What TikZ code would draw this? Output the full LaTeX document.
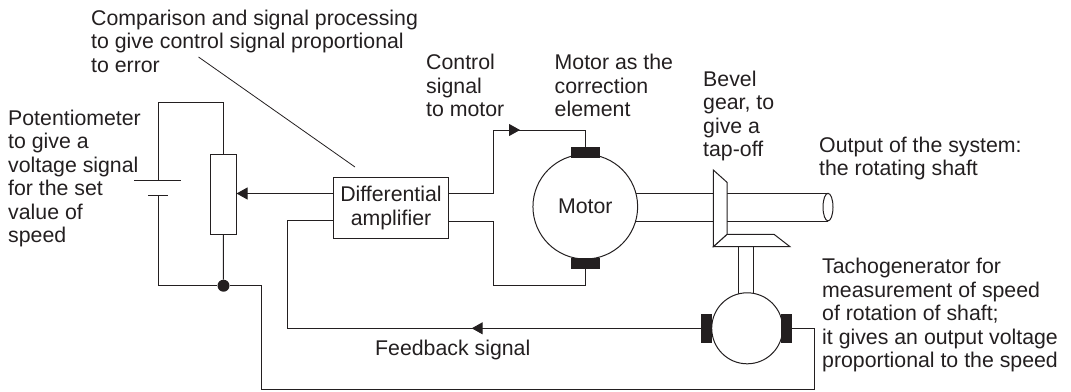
\documentclass[tikz,border=0pt]{standalone}
\usepackage{fontspec}
\setmainfont{Liberation Sans}
\usepackage{xcolor}
\usepackage{tikz}
\usetikzlibrary{arrows.meta, calc, positioning}
\definecolor{inkcol}{RGB}{35,31,32}
\tikzset{
    wire/.style={inkcol, line width=1pt},
    midtip/.style={-{Triangle[length=11pt,width=12pt]}, inkcol, line width=1pt},
    lbl/.style={anchor=base west, inner sep=0pt, align=left, text=inkcol,
        font=\fontsize{21.3}{23.4}\selectfont},
    ctr/.style={inner sep=0pt, align=center, text=inkcol,
        font=\fontsize{21.3}{23.4}\selectfont},
    brush/.style={fill=inkcol, draw=none, inner sep=0pt},
    machine/.style={circle, draw=inkcol, line width=1pt, fill=white, inner sep=0pt},
    ampbox/.style={rectangle, draw=inkcol, line width=1pt, fill=white, inner sep=0pt}
}
\begin{document}
\begin{tikzpicture}[x=1pt,y=-1pt]
\useasboundingbox (0,0) rectangle (1071,391);

% potentiometer and battery
\node[ampbox, minimum width=25.5pt, minimum height=80pt] (pot) at (223.3,194) {};
\coordinate (batT) at (158.7,180);
\coordinate (batB) at (158.7,195);
\coordinate (potTop) at (223.3,102.5);
\node[circle, fill=inkcol, inner sep=0pt, minimum size=12pt] (junc) at (223.5,285.7) {};
\draw[wire] (batT) |- (potTop) -- (pot.north);
\draw[wire] (134,180) -- (181,180);
\draw[wire] (148,195) -- (168,195);
\draw[wire] (batB) |- (junc);
\draw[wire] (pot.south) -- (junc);

% amplifier
\node[ampbox, minimum width=115pt, minimum height=60.5pt, ctr] (amp) at (391,208)
    {Differential\\amplifier};
\coordinate (potIn) at (pot.east |- 0,193.5);
\draw[midtip] (amp.west |- potIn) -- (potIn);

% motor
\coordinate (shaftA) at (585.3,193.3);
\coordinate (shaftB) at (585.3,221);
\coordinate (shaftC) at (828,193.3);
\coordinate (shaftD) at (828,221);
\draw[wire] (shaftA) -- (shaftC);
\draw[wire] (shaftB) -- (shaftD);
\draw[wire, fill=white] (828,207.1) ellipse (5 and 13.8);
\node[machine, minimum size=104.7pt, ctr] (motor) at (585.3,206.7) {Motor};
\node[brush, minimum width=29pt, minimum height=11.5pt] (brushT) at (585.7,152.5) {};
\node[brush, minimum width=29pt, minimum height=11.5pt] (brushB) at (585.7,263.5) {};

\coordinate (ctlA) at (448.5,193);
\coordinate (ctlB) at (493.5,193);
\coordinate (ctlC) at (493.5,130);
\coordinate (ctlTip) at (520,130);
\coordinate (ctlD) at (585.7,130);
\draw[wire] (ctlA) -- (ctlB) -- (ctlC) -- (ctlD) -- (brushT.north);
\draw[midtip] (ctlC) -- (ctlTip);
\coordinate (retA) at (448.5,221);
\coordinate (retB) at (493.5,221);
\coordinate (retC) at (493.5,285);
\draw[wire] (retA) -- (retB) -- (retC) -| (brushB.south);

% bevel gear and tachogenerator
\draw[wire] (738.3,240) -- (738.3,295);
\draw[wire] (753.3,240) -- (753.3,295);
\draw[wire, fill=white] (727,234.3) -- (774,234.3) -- (790,246.7) -- (713.3,246.7) -- cycle;
\draw[wire, fill=white] (713.3,170) -- (727,182.3) -- (727,234.3) -- (713.3,246.7) -- cycle;
\node[machine, minimum size=71pt] (tacho) at (747.2,328.3) {};
\node[brush, minimum width=11pt, minimum height=29pt] (brushL) at (706.5,328.3) {};
\node[brush, minimum width=11pt, minimum height=29pt] (brushR) at (786.5,328.3) {};

% feedback
\coordinate (fbA) at (287.3,220.7);
\coordinate (fbB) at (287.3,328.3);
\coordinate (fbTip) at (471.7,328.3);
\draw[wire] (brushL.west) -- (fbB) -- (fbA) -- (amp.west |- fbA);
\draw[midtip] (brushL.west) -- (fbTip);
\coordinate (rtnA) at (261,285.7);
\coordinate (rtnB) at (261,389);
\coordinate (rtnC) at (814,389);
\draw[wire] (junc) -- (rtnA) -- (rtnB) -- (rtnC) |- (brushR.east);

% leader
\coordinate (leadA) at (198.5,57);
\coordinate (leadB) at (355,167);
\draw[inkcol, line width=0.8pt] (leadA) -- (leadB);

% labels
\node[lbl] (lblComp) at (91,72) {Comparison and signal processing\\to give control signal proportional\\to error};
\node[lbl] (lblPot) at (8,242.5) {Potentiometer\\to give a\\voltage signal\\for the set\\value of\\speed};
\node[lbl] (lblCtl) at (426,116.7) {Control\\signal\\to motor};
\node[lbl] (lblMot) at (554.5,116.7) {Motor as the\\correction\\element};
\node[lbl] (lblBev) at (703,156.7) {Bevel\\gear, to\\give a\\tap-off};
\node[lbl] (lblOut) at (819,175.8) {Output of the system:\\the rotating shaft};
\node[lbl] (lblTach) at (822,367.5) {Tachogenerator for\\measurement of speed\\of rotation of shaft;\\it gives an output voltage\\proportional to the speed};
\node[lbl] (lblFb) at (375,355) {Feedback signal};
\end{tikzpicture}
\end{document}
